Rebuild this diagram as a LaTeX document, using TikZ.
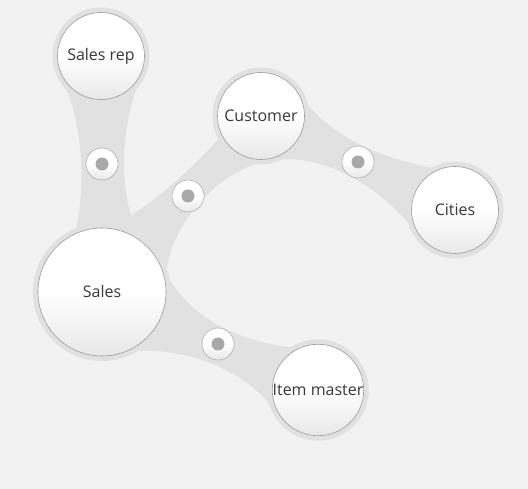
\documentclass[tikz,border=0pt]{standalone}
\usepackage{fontspec}
\setmainfont{Open Sans}
\definecolor{bgc}{HTML}{F2F2F2}
\definecolor{bandc}{HTML}{E1E1E1}
\definecolor{rimc}{HTML}{9A9A9A}
\definecolor{shadec}{HTML}{E8E8E8}
\definecolor{txtc}{HTML}{383838}
\definecolor{dotc}{HTML}{A8A8A8}
\definecolor{linkrim}{HTML}{B0B0B0}
\pgfdeclarelayer{back}
\pgfdeclarelayer{bg}
\pgfsetlayers{back,bg,main}
\begin{document}
\begin{tikzpicture}[x=1pt,y=-1pt,
  ball/.style={circle, inner sep=0pt, top color=white, bottom color=shadec,
    middle color=white,
    draw=rimc, line width=0.6pt, text=txtc,
    font=\fontsize{16}{19}\selectfont,
    preaction={draw=bandc, line width=10pt}},
  smallball/.style={ball, minimum size=87pt},
  bigball/.style={ball, minimum size=128pt},
  linkball/.style={circle, inner sep=0pt, minimum size=32pt, top color=white,
    bottom color=shadec, middle color=white, draw=linkrim, line width=0.6pt},
  linkdot/.style={fill=dotc},
  band/.style={fill=bandc}]
\begin{pgfonlayer}{back}
\useasboundingbox (0,0) rectangle (528,489);
\fill[bgc] (0,0) rectangle (528,489);
\end{pgfonlayer}

\node[smallball] (rep) at (101,56) {Sales rep};
\node[smallball] (cust) at (261,116) {Customer};
\node[smallball] (city) at (455,210) {Cities};
\node[bigball] (sales) at (102,292) {Sales};
\node[smallball] (item) at (318,390) {Item master};

\node[linkball] (l1) at (102,164) {};
\node[linkball] (l2) at (188,196) {};
\node[linkball] (l3) at (358,162) {};
\node[linkball] (l4) at (218,344) {};
\foreach \n in {l1,l2,l3,l4}
  \fill[linkdot] (\n.center) circle[radius=6.5pt];

\begin{pgfonlayer}{bg}
  % Sales rep - Sales - Customer - Cities
  \fill[band] (64,85) .. controls (85,125) and (86,205) .. (72,242)
    -- (sales.center) -- (167,268)
    .. controls (174,218) and (228,159) .. (285,159)
    .. controls (335,159) and (380,190) .. (410,225)
    -- (city.center) -- (433,168)
    .. controls (365,155) and (322,128) .. (298,92)
    -- (cust.center) -- (222,135)
    .. controls (195,165) and (160,198) .. (131,215)
    .. controls (120,180) and (122,125) .. (138,85)
    -- (rep.center) -- cycle;
  % Sales - Item master
  \fill[band] (166,274) .. controls (190,315) and (230,340) .. (294,348)
    -- (item.center) -- (278,415)
    .. controls (245,365) and (175,345) .. (125,352)
    -- (sales.center) -- cycle;
\end{pgfonlayer}
\end{tikzpicture}
\end{document}
